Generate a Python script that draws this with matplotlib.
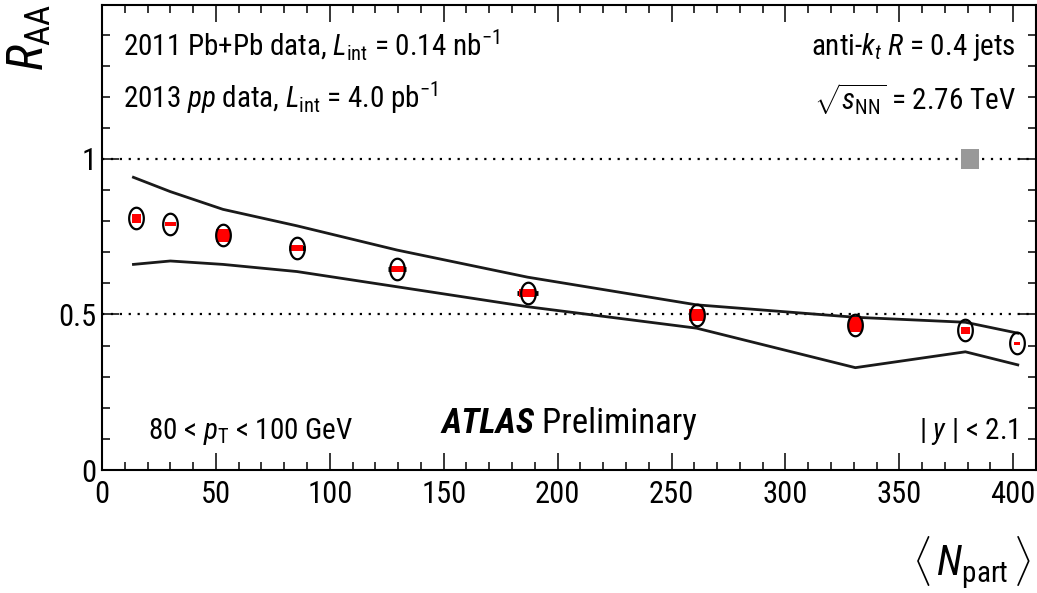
import matplotlib
matplotlib.use("Agg")
import matplotlib.pyplot as plt
import numpy as np
from matplotlib.path import Path
from matplotlib.patches import Rectangle
from matplotlib import font_manager

# ---- data ----
npart = [15.1, 29.9, 53.1, 85.6, 129.6, 186.8, 261.0, 330.7, 379.0, 401.8]
raa = [0.809, 0.791, 0.754, 0.713, 0.647, 0.569, 0.499, 0.467, 0.449, 0.407]
syst_dx = [2.0, 2.4, 3.1, 2.8, 2.9, 3.8, 3.5, 2.9, 2.0, 1.3]
syst_dy = [0.014, 0.006, 0.020, 0.009, 0.009, 0.012, 0.020, 0.024, 0.012, 0.005]
npart_err = [0.0, 0.0, 0.0, 3.7, 4.0, 4.5, 0.0, 0.0, 0.0, 0.0]

band_x = [13.8, 30.0, 53.1, 85.6, 129.6, 186.8, 261.0, 330.7, 379.0, 402.0]
band_hi = [0.941, 0.895, 0.838, 0.785, 0.707, 0.620, 0.531, 0.491, 0.475, 0.440]
band_lo = [0.661, 0.672, 0.661, 0.638, 0.589, 0.525, 0.456, 0.329, 0.380, 0.338]

global_x, global_dx = 381.0, 4.0
global_y, global_dy = 1.0, 0.032

# prefer a narrow Helvetica-like face if one is installed
available = {f.name for f in font_manager.fontManager.ttflist}
fam = 'Liberation Sans'
narrow = False
for cand in ['Liberation Sans Narrow', 'Roboto Condensed', 'Open Sans Condensed', 'Arial Narrow']:
    if cand in available:
        fam = cand
        narrow = True
        break

fs = 21 if narrow else 18

plt.rcParams['font.family'] = [fam, 'DejaVu Sans']
plt.rcParams['mathtext.fontset'] = 'custom'
plt.rcParams['mathtext.rm'] = fam
plt.rcParams['mathtext.it'] = fam + ':italic'
plt.rcParams['mathtext.bf'] = fam + ':bold'

fig = plt.figure(figsize=(10.37, 5.93), dpi=100)
ax = fig.add_axes([102 / 1037, 1 - 470 / 593, 934 / 1037, 465 / 593])

ax.set_xlim(0, 410)
ax.set_ylim(0, 1.495)

# reference lines
for yv in (0.5, 1.0):
    ax.axhline(yv, color='black', linestyle=(0, (1, 3)), linewidth=1.6, zorder=1)

# band edges
ax.plot(band_x, band_hi, color='#1a1a1a', linewidth=2.0, zorder=2)
ax.plot(band_x, band_lo, color='#1a1a1a', linewidth=2.0, zorder=2)

# global uncertainty box
ax.add_patch(Rectangle((global_x - global_dx, global_y - global_dy), 2 * global_dx, 2 * global_dy,
                       facecolor='#999999', edgecolor='none', zorder=3))

# horizontal error bars
for x, y, ex in zip(npart, raa, npart_err):
    if ex > 0:
        ax.plot([x - ex, x + ex], [y, y], color='black', linewidth=3.5, solid_capstyle='butt', zorder=3)

# systematic boxes
for x, y, dx, dy in zip(npart, raa, syst_dx, syst_dy):
    ax.add_patch(Rectangle((x - dx, y - dy), 2 * dx, 2 * dy, facecolor='red', edgecolor='none', zorder=4))

# open (stretched) circle markers
t = np.linspace(0, 2 * np.pi, 60)
ellipse = Path(np.column_stack([0.68 * np.cos(t), np.sin(t)]), closed=True)
ax.plot(npart, raa, linestyle='none', marker=ellipse, markersize=15.5, markerfacecolor='none',
        markeredgecolor='black', markeredgewidth=1.6, zorder=5)

# axes style
ax.set_xticks(np.arange(0, 401, 50))
ax.set_xticks(np.arange(0, 411, 10), minor=True)
ax.set_yticks([0, 0.5, 1])
ax.set_yticklabels(['0', '0.5', '1'])
ax.set_yticks(np.arange(0, 1.5, 0.1), minor=True)
ax.tick_params(which='both', direction='in', top=True, right=True, width=1.1, labelsize=fs + 1)
ax.tick_params(which='major', length=12)
ax.tick_params(which='minor', length=6)
ax.tick_params(axis='x', pad=7)
ax.tick_params(axis='y', pad=4)
for s in ax.spines.values():
    s.set_linewidth(1.5)

fig.text(29 / 1037, 1 - 4 / 593, r'$R_{\mathrm{AA}}$', rotation=90, ha='center', va='top', fontsize=36)
fig.text(1031 / 1037, 1 - 591 / 593, r'$\langle\,N_{\mathrm{part}}\,\rangle$', ha='right', va='bottom', fontsize=30)

ax.text(9, 1.33, r'2011 Pb+Pb data, $L_{\mathrm{int}}$ = 0.14 nb$^{-1}$', fontsize=fs, ha='left', va='baseline')
ax.text(9, 1.165, r'2013 $pp$ data, $L_{\mathrm{int}}$ = 4.0 pb$^{-1}$', fontsize=fs, ha='left', va='baseline')
ax.text(401, 1.335, r'anti-$k_{t}$ $R$ = 0.4 jets', fontsize=fs, ha='right', va='baseline')
ax.text(401, 1.157, r'$\sqrt{s_{\mathrm{NN}}}$ = 2.76 TeV', fontsize=fs, ha='right', va='baseline')
ax.text(20, 0.10, r'80 < $p_{\mathrm{T}}$ < 100 GeV', fontsize=fs, ha='left', va='baseline')
atl = ax.text(149, 0.118, 'ATLAS', fontsize=fs + 4, fontweight='bold', fontstyle='italic',
              ha='left', va='baseline')
ax.annotate(' Preliminary', xy=(1, 0), xycoords=atl, xytext=(0, 0), textcoords='offset points',
            fontsize=fs + 4, ha='left', va='bottom')
ax.text(402, 0.10, r'| $y$ | < 2.1', fontsize=fs, ha='right', va='baseline')

fig.savefig('out.png', dpi=100)
